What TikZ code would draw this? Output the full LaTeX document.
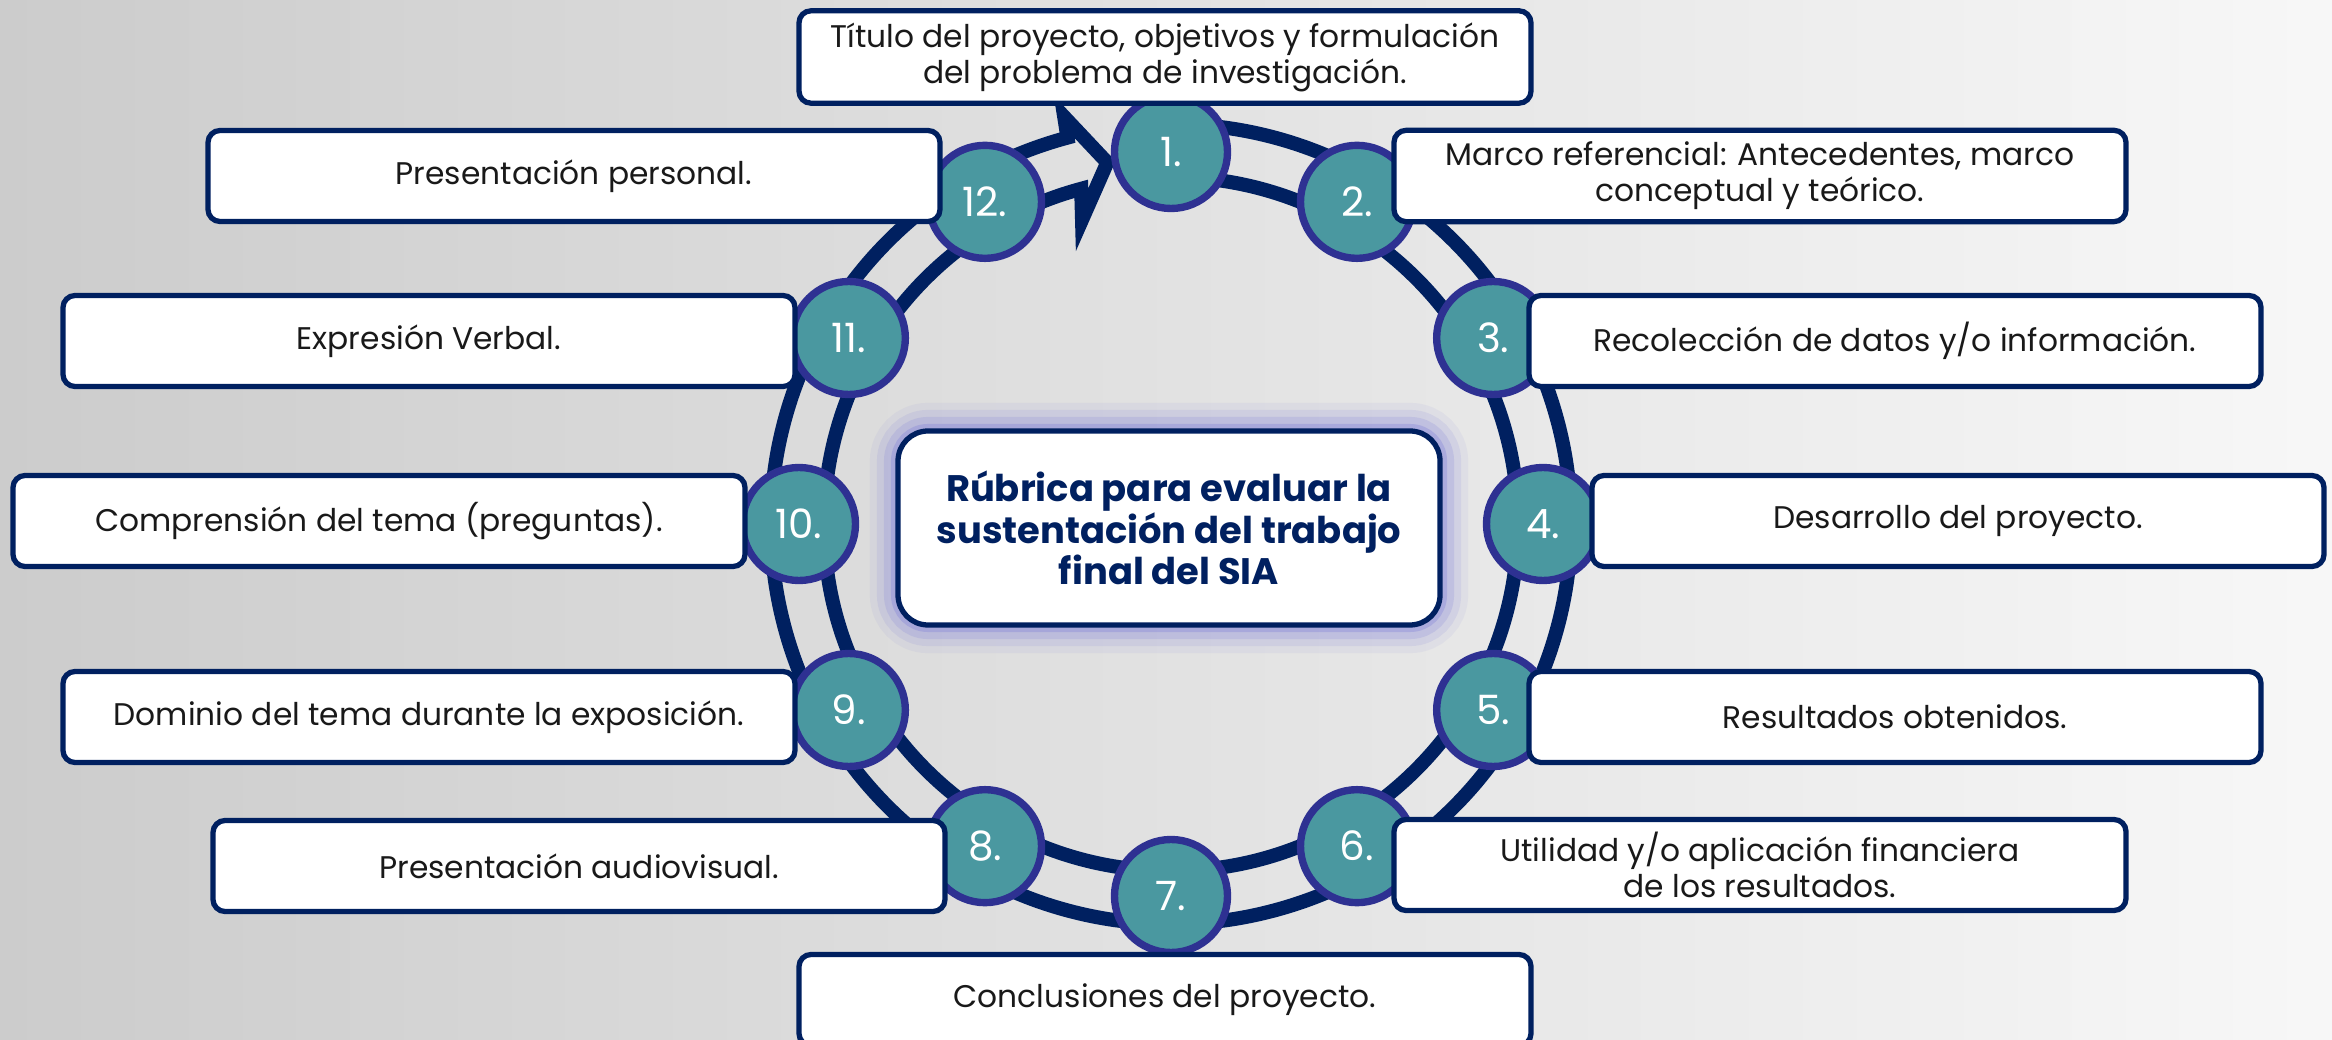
\documentclass[tikz,border=0pt]{standalone}
\usepackage{fontspec}
\setmainfont{Poppins}
\usetikzlibrary{positioning}
\definecolor{navy}{RGB}{0,32,96}
\definecolor{numfill}{RGB}{74,152,160}
\definecolor{numrim}{RGB}{46,49,146}
\definecolor{glowc}{RGB}{120,120,215}
\definecolor{labtext}{RGB}{25,25,25}
\begin{document}
\begin{tikzpicture}[num/.style={shape=circle, draw=numrim, fill=numfill, line width=2.1pt, minimum size=1.13cm, inner sep=0, text=white, font=\fontsize{11.5}{12}\selectfont}, box/.style={shape=rectangle, draw=navy, fill=white, line width=1.5pt, rounded corners=0.12cm, minimum width=7.32cm, minimum height=0.91cm, align=center, text=labtext, font=\fontsize{8.9}{10.2}\selectfont}, ring/.style={draw=navy, line width=4pt, line join=miter}, topic/.style={shape=rectangle, draw=navy, fill=white, line width=1.5pt, rounded corners=0.3cm, minimum width=5.42cm, minimum height=1.94cm, align=center, text=navy, font=\fontsize{10.5}{11.8}\selectfont\bfseries, preaction={draw=glowc, line width=16pt, opacity=0.08}, preaction={draw=glowc, line width=12pt, opacity=0.12}, preaction={draw=glowc, line width=8pt, opacity=0.18}, preaction={draw=glowc, line width=4pt, opacity=0.3}}]
				\useasboundingbox (0,0) rectangle (23.32,-10.40);
				\shade[left color=black!20, right color=black!3] (0,0) rectangle (23.32,-10.40);
				\coordinate (o) at (11.71,-5.24);
				\begin{scope}[shift={(o)}]
					\draw[ring] (90:3.47) arc[start angle=90, end angle=-255, radius=3.47] -- (106.3:3.17) -- (100:3.67) -- (104.7:4.21) -- (105:4.0) arc[start angle=105, end angle=450, radius=4.0];
				\end{scope}
				\node[num] (c1) at ([shift={(90:3.72)}]o) {1.};
				\node[num] (c2) at ([shift={(60:3.72)}]o) {2.};
				\node[num] (c3) at ([shift={(30:3.72)}]o) {3.};
				\node[num] (c4) at ([shift={(0:3.72)}]o) {4.};
				\node[num] (c5) at ([shift={(-30:3.72)}]o) {5.};
				\node[num] (c6) at ([shift={(-60:3.72)}]o) {6.};
				\node[num] (c7) at ([shift={(-90:3.72)}]o) {7.};
				\node[num] (c8) at ([shift={(-120:3.72)}]o) {8.};
				\node[num] (c9) at ([shift={(-150:3.72)}]o) {9.};
				\node[num] (c10) at ([shift={(180:3.72)}]o) {10.};
				\node[num] (c11) at ([shift={(150:3.72)}]o) {11.};
				\node[num] (c12) at ([shift={(120:3.72)}]o) {12.};
				\node[box] (b1) at (11.65,-0.57) {Título del proyecto, objetivos y formulación\\del problema de investigación.};
				\node[box] (b2) at (17.60,-1.76) {Marco referencial: Antecedentes, marco\\conceptual y teórico.};
				\node[box] (b3) at (18.95,-3.41) {Recolección de datos y/o información.};
				\node[box] (b4) at (19.58,-5.21) {Desarrollo del proyecto.};
				\node[box] (b5) at (18.95,-7.17) {Resultados obtenidos.};
				\node[box] (b6) at (17.60,-8.65) {Utilidad y/o aplicación financiera\\de los resultados.};
				\node[box] (b7) at (11.65,-10.00) {Conclusiones del proyecto.};
				\node[box] (b8) at (5.79,-8.66) {Presentación audiovisual.};
				\node[box] (b9) at (4.29,-7.17) {Dominio del tema durante la exposición.};
				\node[box] (b10) at (3.79,-5.21) {Comprensión del tema (preguntas).};
				\node[box] (b11) at (4.29,-3.41) {Expresión Verbal.};
				\node[box] (b12) at (5.74,-1.76) {Presentación personal.};
				\node[topic] (main) at (11.69,-5.28) {Rúbrica para evaluar la\\sustentación del trabajo\\final del SIA};
			\end{tikzpicture}
\end{document}
